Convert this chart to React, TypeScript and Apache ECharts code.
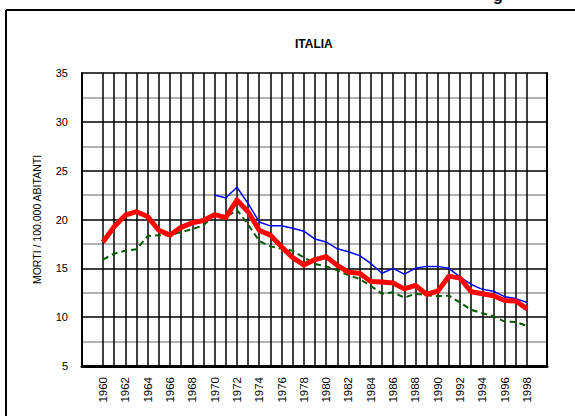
import React, { useEffect, useRef } from "react";
import * as echarts from "echarts";

const years: string[] = [];
for (let y = 1960; y <= 1998; y++) years.push(String(y));

const redSeries = [
  17.7, 19.25, 20.45, 20.8, 20.3, 18.9, 18.4, 19.2, 19.65, 19.9, 20.5, 20.2, 22.0,
  20.8, 18.9, 18.4, 17.2, 16.1, 15.35, 15.9, 16.2, 15.3, 14.6, 14.5, 13.65, 13.6,
  13.5, 12.9, 13.25, 12.35, 12.65, 14.2, 14.0, 12.6, 12.4, 12.2, 11.7, 11.65, 10.85,
];

const blueSeries = [
  null, null, null, null, null, null, null, null, null, null,
  22.5, 22.2, 23.3, 21.65, 19.75, 19.35, 19.35, 19.1, 18.8, 18.0, 17.7, 17.0, 16.7,
  16.3, 15.5, 14.5, 15.0, 14.4, 15.0, 15.2, 15.2, 15.0, 14.1, 13.35, 12.85, 12.65,
  12.1, 11.9, 11.5,
];

const greenSeries = [
  15.9, 16.5, 16.8, 16.95, 18.3, 18.4, 18.4, 18.7, 19.0, 19.4, 20.5, 20.2, 21.0,
  19.5, 17.8, 17.25, 17.0, 16.8, 16.1, 15.45, 15.2, 14.8, 14.3, 13.9, 13.2, 12.4,
  12.55, 12.0, 12.4, 12.25, 12.15, 12.2, 11.5, 10.75, 10.4, 10.1, 9.55, 9.5, 9.1,
];

const yMin = 5;
const yMax = 35;
const yStep = 5;

const FONT = "'Liberation Sans', Arial, sans-serif";

export default function App() {
  const ref = useRef<HTMLDivElement>(null);

  useEffect(() => {
    if (!ref.current) return;
    const chart = echarts.init(ref.current, null, { renderer: "svg" });
    chart.setOption({
      animation: false,
      backgroundColor: "#ffffff",
      title: {
        text: "ITALIA",
        left: 295,
        top: 38,
        padding: 0,
        textStyle: { fontFamily: FONT, fontSize: 12, fontWeight: "bold", color: "#000" },
      },
      graphic: [
        {
          type: "line",
          shape: { x1: 6, y1: 10, x2: 575, y2: 10 },
          style: { stroke: "#000", lineWidth: 2 },
        },
        {
          type: "line",
          shape: { x1: 6, y1: 10, x2: 6, y2: 416 },
          style: { stroke: "#000", lineWidth: 2 },
        },
        {
          type: "text",
          x: 493,
          y: -13,
          style: { text: "g", font: "bold 16px 'Liberation Sans', Arial, sans-serif", fill: "#000" },
        },
      ],
      grid: [
        { left: 82, right: 28, top: 73, bottom: 50 },
        { left: 103, right: 48, top: 73, bottom: 50 },
      ],
      xAxis: [
        {
          gridIndex: 0,
          type: "value",
          min: 0,
          max: 1,
          axisLine: { show: true, onZero: false, lineStyle: { color: "#000", width: 3 } },
          axisTick: { show: false },
          axisLabel: { show: false },
          splitLine: { show: false },
        },
        {
          gridIndex: 1,
          type: "category",
          data: years,
          boundaryGap: false,
          axisLine: { show: false },
          axisTick: { show: false },
          axisLabel: {
            interval: 1,
            rotate: 90,
            margin: 11,
            fontFamily: FONT,
            fontSize: 11.5,
            color: "#000",
          },
          splitLine: { show: true, interval: 0, lineStyle: { color: "#000", width: 1.5 } },
        },
      ],
      yAxis: [
        {
          gridIndex: 0,
          type: "value",
          min: yMin,
          max: yMax,
          interval: yStep,
          name: "MORTI / 100.000 ABITANTI",
          nameLocation: "middle",
          nameGap: 40,
          nameTextStyle: { fontFamily: FONT, fontSize: 10.5, color: "#000" },
          axisLine: { show: true, lineStyle: { color: "#000", width: 2 } },
          axisTick: { show: false },
          axisLabel: { margin: 14, fontFamily: FONT, fontSize: 11, color: "#000" },
          splitLine: { show: true, lineStyle: { color: "#000", width: 1.5 } },
          minorTick: { show: false, splitNumber: 2 },
          minorSplitLine: { show: true, lineStyle: { color: "#999", width: 1.5 } },
        },
        {
          gridIndex: 0,
          type: "value",
          position: "right",
          min: yMin,
          max: yMax,
          interval: yStep,
          axisLine: { show: true, lineStyle: { color: "#000", width: 2 } },
          axisTick: { show: false },
          axisLabel: { show: false },
          splitLine: { show: false },
        },
        {
          gridIndex: 1,
          type: "value",
          min: yMin,
          max: yMax,
          interval: yStep,
          show: false,
        },
      ],
      series: [
        {
          type: "line",
          name: "green",
          xAxisIndex: 1,
          yAxisIndex: 2,
          data: greenSeries,
          symbol: "none",
          lineStyle: { color: "#005a00", width: 2, type: [6, 4] },
          z: 3,
        },
        {
          type: "line",
          name: "blue",
          xAxisIndex: 1,
          yAxisIndex: 2,
          data: blueSeries,
          symbol: "none",
          connectNulls: false,
          lineStyle: { color: "#0000ff", width: 1.5 },
          z: 4,
        },
        {
          type: "line",
          name: "red",
          xAxisIndex: 1,
          yAxisIndex: 2,
          data: redSeries,
          symbol: "none",
          lineStyle: { color: "#ff0000", width: 5, join: "round" },
          z: 5,
        },
      ],
    });
    return () => chart.dispose();
  }, []);

  return (
    <div
      ref={ref}
      style={{ position: "absolute", left: 0, top: 0, width: 575, height: 416, background: "#fff" }}
    />
  );
}
